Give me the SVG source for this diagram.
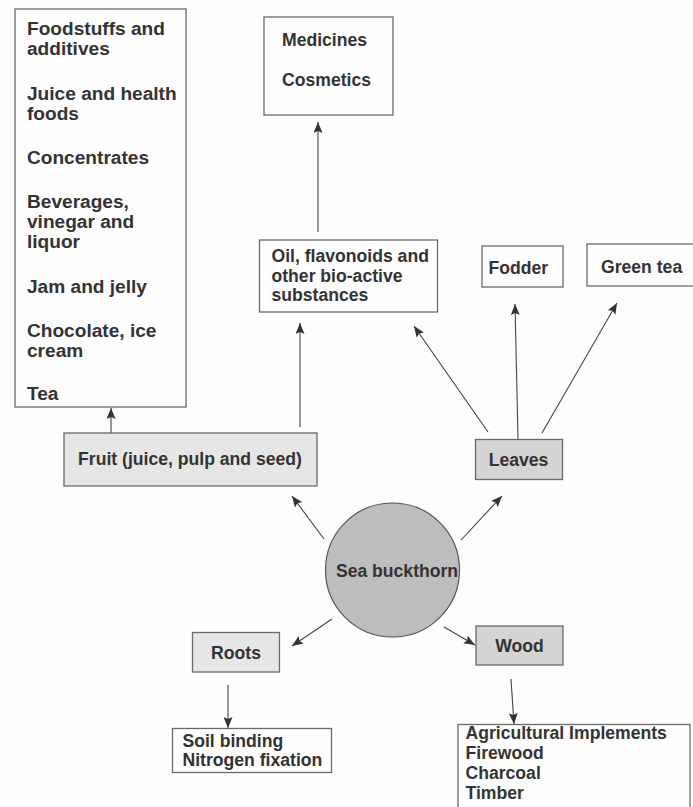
<svg xmlns="http://www.w3.org/2000/svg" width="693" height="807" viewBox="0 0 693 807">
<style>
.bg{fill:#fdfdfd}
.box{fill:#fdfdfd;stroke:#6a6a6a;stroke-width:1.3}
.g1{fill:#e6e6e6;stroke:#6a6a6a;stroke-width:1.3}
.g2{fill:#d4d4d4;stroke:#6a6a6a;stroke-width:1.3}
.t{font-family:"Liberation Sans",Arial,sans-serif;font-weight:bold;font-size:17.6px;fill:#333}
.f{font-size:19.1px}
.c{text-anchor:middle}
.ln{stroke:#444;stroke-width:1.1;fill:none;marker-end:url(#ah)}
</style>
<defs>
<marker id="ah" markerUnits="userSpaceOnUse" markerWidth="11" markerHeight="9" refX="11" refY="4.5" orient="auto">
<path d="M0,0 L11,4.5 L0,9 L2,4.5 z" fill="#333"/>
</marker>
</defs>
<rect class="bg" x="0" y="0" width="693" height="807"/>

<g id="connectors">
<line class="ln" x1="111" y1="433" x2="111" y2="408"/>
<line class="ln" x1="300" y1="427" x2="300" y2="323"/>
<line class="ln" x1="318" y1="232" x2="318" y2="122"/>
<line class="ln" x1="488" y1="432" x2="414" y2="326"/>
<line class="ln" x1="518" y1="439" x2="515" y2="304"/>
<line class="ln" x1="542" y1="433" x2="617" y2="303"/>
<line class="ln" x1="461" y1="540" x2="502" y2="496"/>
<line class="ln" x1="324" y1="539" x2="292" y2="496"/>
<line class="ln" x1="332" y1="619" x2="292" y2="646"/>
<line class="ln" x1="444" y1="627" x2="475" y2="645"/>
<line class="ln" x1="228" y1="685" x2="228" y2="728"/>
<line class="ln" x1="511" y1="679" x2="514" y2="724"/>
</g>

<g id="food">
<rect class="box" x="15" y="9" width="171" height="398"/>
<text class="t f" x="27" y="34.5">Foodstuffs and</text>
<text class="t f" x="27" y="54.5">additives</text>
<text class="t f" x="27" y="99.5">Juice and health</text>
<text class="t f" x="27" y="120">foods</text>
<text class="t f" x="27" y="164">Concentrates</text>
<text class="t f" x="27" y="208">Beverages,</text>
<text class="t f" x="27" y="228">vinegar and</text>
<text class="t f" x="27" y="248">liquor</text>
<text class="t f" x="27" y="293">Jam and jelly</text>
<text class="t f" x="27" y="336.5">Chocolate, ice</text>
<text class="t f" x="27" y="356.5">cream</text>
<text class="t f" x="27" y="400">Tea</text>
</g>

<g id="medicines">
<rect class="box" x="264" y="17" width="129" height="98"/>
<text class="t" x="282" y="46">Medicines</text>
<text class="t" x="282" y="86">Cosmetics</text>
</g>

<g id="oil">
<rect class="box" x="259.5" y="240" width="178" height="72"/>
<text class="t" x="271.5" y="262">Oil, flavonoids and</text>
<text class="t" x="271.5" y="281.5">other bio-active</text>
<text class="t" x="271.5" y="301">substances</text>
</g>

<g id="fodder">
<rect class="box" x="482" y="246" width="81" height="41"/>
<text class="t" x="488.5" y="274">Fodder</text>
</g>

<g id="greentea">
<rect class="box" x="587" y="244" width="110" height="42"/>
<text class="t" x="601" y="273">Green tea</text>
</g>

<g id="fruit">
<rect class="g1" x="64" y="433" width="253" height="53"/>
<text class="t c" x="190" y="464.5">Fruit (juice, pulp and seed)</text>
</g>

<g id="leaves">
<rect class="g2" x="475.5" y="439.5" width="87" height="40"/>
<text class="t c" x="518.5" y="466">Leaves</text>
</g>

<g id="seabuckthorn">
<circle cx="392.5" cy="570" r="67" fill="#bdbdbd" stroke="#555" stroke-width="1.2"/>
<text class="t c" x="397" y="577">Sea buckthorn</text>
</g>

<g id="roots">
<rect class="g1" x="192.5" y="632.5" width="87" height="39.5"/>
<text class="t c" x="236" y="658.5">Roots</text>
</g>

<g id="wood">
<rect class="g2" x="476" y="626" width="87" height="39"/>
<text class="t c" x="519.5" y="652">Wood</text>
</g>

<g id="soil">
<rect class="box" x="172.5" y="728.5" width="159" height="44"/>
<text class="t" x="182.5" y="747">Soil binding</text>
<text class="t" x="182.5" y="766">Nitrogen fixation</text>
</g>

<g id="agri">
<rect class="box" x="458" y="724.5" width="232" height="100"/>
<text class="t" x="465.5" y="738.5">Agricultural Implements</text>
<text class="t" x="465.5" y="758.5">Firewood</text>
<text class="t" x="465.5" y="779">Charcoal</text>
<text class="t" x="465.5" y="799">Timber</text>
</g>
</svg>
